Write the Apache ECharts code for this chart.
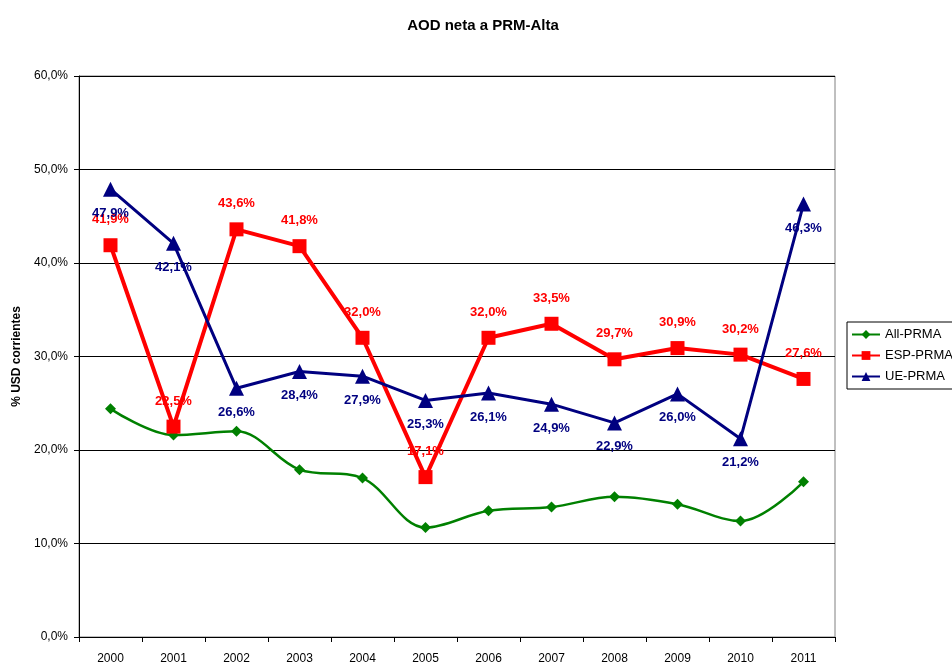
<!DOCTYPE html>
<html>
<head>
<meta charset="utf-8">
<script src="https://cdn.jsdelivr.net/npm/echarts@6/dist/echarts.min.js"></script>
<style>
html, body { margin: 0; padding: 0; background: #fff; }
#box { width: 952px; height: 665px; }
</style>
</head>
<body>
<div id="box"></div>
<script>
var years = ['2000', '2001', '2002', '2003', '2004', '2005', '2006', '2007', '2008', '2009', '2010', '2011'];
var allPrma = [24.4, 21.6, 22.0, 17.9, 17.0, 11.7, 13.5, 13.9, 15.0, 14.2, 12.4, 16.6];
var espPrma = [41.9, 22.5, 43.6, 41.8, 32.0, 17.1, 32.0, 33.5, 29.7, 30.9, 30.2, 27.6];
var uePrma = [47.9, 42.1, 26.6, 28.4, 27.9, 25.3, 26.1, 24.9, 22.9, 26.0, 21.2, 46.3];

var font = 'Liberation Sans, Arial, sans-serif';
function pct(v) { return v.toFixed(1).replace('.', ',') + '%'; }

var dom = document.getElementById('box');
var myChart = echarts.init(dom);
var option = {
    backgroundColor: '#fff',
    animation: false,
    title: {
        text: 'AOD neta a PRM-Alta',
        left: 478,
        textAlign: 'center',
        top: 13,
        textStyle: { fontFamily: font, fontSize: 15, fontWeight: 'bold', color: '#000' }
    },
    legend: {
        orient: 'vertical',
        left: 847,
        top: 322,
        itemWidth: 28,
        itemHeight: 11,
        itemGap: 8,
        itemStyle: { borderWidth: 0 },
        padding: [6, 2, 6, 4],
        borderColor: '#000',
        borderWidth: 1,
        textStyle: { fontFamily: font, fontSize: 13, color: '#000' },
        data: ['All-PRMA', 'ESP-PRMA', 'UE-PRMA']
    },
    grid: {
        left: 79,
        right: 117,
        top: 76,
        bottom: 28,
        show: true,
        borderColor: '#808080',
        borderWidth: 1
    },
    xAxis: {
        type: 'category',
        data: years,
        boundaryGap: true,
        axisLine: { lineStyle: { color: '#000', width: 1 } },
        axisTick: { show: true, alignWithLabel: false, length: 5, lineStyle: { color: '#000' } },
        axisLabel: { fontFamily: font, fontSize: 12, color: '#000', margin: 16 }
    },
    yAxis: {
        type: 'value',
        min: 0,
        max: 60,
        interval: 10,
        name: '% USD corrientes',
        nameLocation: 'middle',
        nameGap: 54,
        nameRotate: 90,
        nameTextStyle: { fontFamily: font, fontSize: 12, fontWeight: 'bold', color: '#000' },
        axisLine: { show: true, lineStyle: { color: '#000', width: 1 } },
        axisTick: { show: true, length: 5, lineStyle: { color: '#000' } },
        axisLabel: {
            fontFamily: font, fontSize: 12, color: '#000', margin: 11,
            formatter: function (v) { return pct(v); }
        },
        splitLine: { show: true, lineStyle: { color: '#000', width: 1 } }
    },
    series: [
        {
            name: 'All-PRMA',
            type: 'line',
            smooth: 0.35,
            data: allPrma,
            symbol: 'diamond',
            symbolSize: 11,
            itemStyle: { color: '#008000' },
            lineStyle: { color: '#008000', width: 2.5 }
        },
        {
            name: 'ESP-PRMA',
            type: 'line',
            data: espPrma,
            symbol: 'rect',
            symbolSize: 14,
            itemStyle: { color: '#ff0000' },
            lineStyle: { color: '#ff0000', width: 4 },
            label: {
                show: true,
                position: 'top',
                distance: 12,
                fontFamily: font,
                fontSize: 13,
                fontWeight: 'bold',
                color: '#ff0000',
                formatter: function (p) { return pct(p.value); }
            }
        },
        {
            name: 'UE-PRMA',
            type: 'line',
            data: uePrma,
            symbol: 'triangle',
            symbolSize: 15,
            itemStyle: { color: '#000080' },
            lineStyle: { color: '#000080', width: 3 },
            label: {
                show: true,
                position: 'bottom',
                distance: 10,
                fontFamily: font,
                fontSize: 13,
                fontWeight: 'bold',
                color: '#000080',
                formatter: function (p) { return pct(p.value); }
            }
        }
    ]
};
if (option && typeof option === 'object') {
    myChart.setOption(option, true);
}
</script>
</body>
</html>
